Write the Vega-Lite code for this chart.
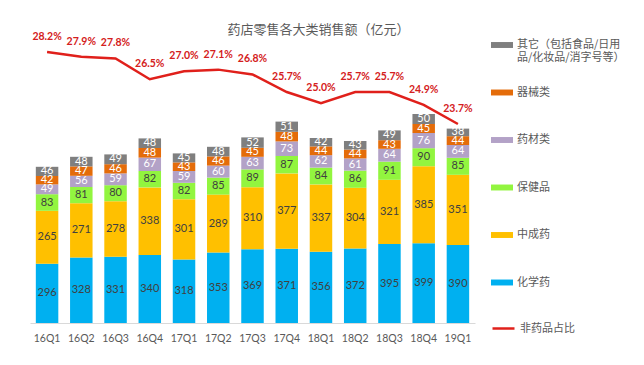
{
  "$schema": "https://vega.github.io/schema/vega-lite/v6.json",
  "width": 445,
  "height": 278,
  "autosize": {"type": "none"},
  "padding": {"left": 30, "top": 45, "right": 169, "bottom": 42},
  "background": "#ffffff",
  "config": {"view": {"stroke": null}},
  "title": {
    "text": "药店零售各大类销售额（亿元）",
    "anchor": "middle",
    "frame": "group",
    "dx": 66,
    "dy": 14,
    "offset": 9,
    "font": "Noto Sans CJK SC",
    "fontSize": 13,
    "fontWeight": "normal",
    "color": "#595959"
  },
  "datasets": {
    "sales": [
      {"q": "16Q1", "cat": "化学药", "v": 296}, {"q": "16Q2", "cat": "化学药", "v": 328}, {"q": "16Q3", "cat": "化学药", "v": 331}, {"q": "16Q4", "cat": "化学药", "v": 340}, {"q": "17Q1", "cat": "化学药", "v": 318}, {"q": "17Q2", "cat": "化学药", "v": 353}, {"q": "17Q3", "cat": "化学药", "v": 369}, {"q": "17Q4", "cat": "化学药", "v": 371}, {"q": "18Q1", "cat": "化学药", "v": 356}, {"q": "18Q2", "cat": "化学药", "v": 372}, {"q": "18Q3", "cat": "化学药", "v": 395}, {"q": "18Q4", "cat": "化学药", "v": 399}, {"q": "19Q1", "cat": "化学药", "v": 390},
      {"q": "16Q1", "cat": "中成药", "v": 265}, {"q": "16Q2", "cat": "中成药", "v": 271}, {"q": "16Q3", "cat": "中成药", "v": 278}, {"q": "16Q4", "cat": "中成药", "v": 338}, {"q": "17Q1", "cat": "中成药", "v": 301}, {"q": "17Q2", "cat": "中成药", "v": 289}, {"q": "17Q3", "cat": "中成药", "v": 310}, {"q": "17Q4", "cat": "中成药", "v": 377}, {"q": "18Q1", "cat": "中成药", "v": 337}, {"q": "18Q2", "cat": "中成药", "v": 304}, {"q": "18Q3", "cat": "中成药", "v": 321}, {"q": "18Q4", "cat": "中成药", "v": 385}, {"q": "19Q1", "cat": "中成药", "v": 351},
      {"q": "16Q1", "cat": "保健品", "v": 83}, {"q": "16Q2", "cat": "保健品", "v": 81}, {"q": "16Q3", "cat": "保健品", "v": 80}, {"q": "16Q4", "cat": "保健品", "v": 82}, {"q": "17Q1", "cat": "保健品", "v": 82}, {"q": "17Q2", "cat": "保健品", "v": 85}, {"q": "17Q3", "cat": "保健品", "v": 89}, {"q": "17Q4", "cat": "保健品", "v": 87}, {"q": "18Q1", "cat": "保健品", "v": 84}, {"q": "18Q2", "cat": "保健品", "v": 86}, {"q": "18Q3", "cat": "保健品", "v": 91}, {"q": "18Q4", "cat": "保健品", "v": 90}, {"q": "19Q1", "cat": "保健品", "v": 85},
      {"q": "16Q1", "cat": "药材类", "v": 49}, {"q": "16Q2", "cat": "药材类", "v": 56}, {"q": "16Q3", "cat": "药材类", "v": 59}, {"q": "16Q4", "cat": "药材类", "v": 67}, {"q": "17Q1", "cat": "药材类", "v": 59}, {"q": "17Q2", "cat": "药材类", "v": 60}, {"q": "17Q3", "cat": "药材类", "v": 63}, {"q": "17Q4", "cat": "药材类", "v": 73}, {"q": "18Q1", "cat": "药材类", "v": 62}, {"q": "18Q2", "cat": "药材类", "v": 61}, {"q": "18Q3", "cat": "药材类", "v": 64}, {"q": "18Q4", "cat": "药材类", "v": 76}, {"q": "19Q1", "cat": "药材类", "v": 64},
      {"q": "16Q1", "cat": "器械类", "v": 42}, {"q": "16Q2", "cat": "器械类", "v": 47}, {"q": "16Q3", "cat": "器械类", "v": 46}, {"q": "16Q4", "cat": "器械类", "v": 48}, {"q": "17Q1", "cat": "器械类", "v": 43}, {"q": "17Q2", "cat": "器械类", "v": 46}, {"q": "17Q3", "cat": "器械类", "v": 45}, {"q": "17Q4", "cat": "器械类", "v": 48}, {"q": "18Q1", "cat": "器械类", "v": 44}, {"q": "18Q2", "cat": "器械类", "v": 44}, {"q": "18Q3", "cat": "器械类", "v": 43}, {"q": "18Q4", "cat": "器械类", "v": 45}, {"q": "19Q1", "cat": "器械类", "v": 44},
      {"q": "16Q1", "cat": "其它（包括食品/日用品/化妆品/消字号等）", "v": 46}, {"q": "16Q2", "cat": "其它（包括食品/日用品/化妆品/消字号等）", "v": 48}, {"q": "16Q3", "cat": "其它（包括食品/日用品/化妆品/消字号等）", "v": 49}, {"q": "16Q4", "cat": "其它（包括食品/日用品/化妆品/消字号等）", "v": 48}, {"q": "17Q1", "cat": "其它（包括食品/日用品/化妆品/消字号等）", "v": 45}, {"q": "17Q2", "cat": "其它（包括食品/日用品/化妆品/消字号等）", "v": 48}, {"q": "17Q3", "cat": "其它（包括食品/日用品/化妆品/消字号等）", "v": 52}, {"q": "17Q4", "cat": "其它（包括食品/日用品/化妆品/消字号等）", "v": 51}, {"q": "18Q1", "cat": "其它（包括食品/日用品/化妆品/消字号等）", "v": 42}, {"q": "18Q2", "cat": "其它（包括食品/日用品/化妆品/消字号等）", "v": 43}, {"q": "18Q3", "cat": "其它（包括食品/日用品/化妆品/消字号等）", "v": 49}, {"q": "18Q4", "cat": "其它（包括食品/日用品/化妆品/消字号等）", "v": 50}, {"q": "19Q1", "cat": "其它（包括食品/日用品/化妆品/消字号等）", "v": 38}
    ],
    "ratio": [
      {"q": "16Q1", "p": 0.282}, {"q": "16Q2", "p": 0.279}, {"q": "16Q3", "p": 0.278}, {"q": "16Q4", "p": 0.265}, {"q": "17Q1", "p": 0.270}, {"q": "17Q2", "p": 0.271}, {"q": "17Q3", "p": 0.268}, {"q": "17Q4", "p": 0.257}, {"q": "18Q1", "p": 0.250}, {"q": "18Q2", "p": 0.257}, {"q": "18Q3", "p": 0.257}, {"q": "18Q4", "p": 0.249}, {"q": "19Q1", "p": 0.237}
    ]
  },
  "encoding": {
    "x": {
      "field": "q",
      "type": "nominal",
      "sort": null,
      "scale": {"paddingInner": 0.343, "paddingOuter": 0.17},
      "axis": {
        "title": null,
        "labelAngle": 0,
        "ticks": false,
        "domainColor": "#d9d9d9",
        "domainWidth": 1,
        "labelColor": "#595959",
        "labelFont": "Lato",
        "labelFontSize": 10.5,
        "labelPadding": 10
      }
    }
  },
  "layer": [
    {
      "data": {"name": "sales"},
      "transform": [
        {"calculate": "indexof(['化学药','中成药','保健品','药材类','器械类','其它（包括食品/日用品/化妆品/消字号等）'], datum.cat)", "as": "idx"},
        {"stack": "v", "groupby": ["q"], "sort": [{"field": "idx", "order": "ascending"}], "as": ["v0", "v1"]},
        {"calculate": "(datum.v0 + datum.v1) / 2", "as": "vm"}
      ],
      "layer": [
        {
          "mark": {"type": "bar"},
          "encoding": {
            "y": {"field": "v0", "type": "quantitative", "scale": {"domain": [0, 1390]}, "axis": null},
            "y2": {"field": "v1"},
            "fill": {
              "field": "cat",
              "type": "nominal",
              "scale": {
                "domain": ["其它（包括食品/日用品/化妆品/消字号等）", "器械类", "药材类", "保健品", "中成药", "化学药"],
                "range": ["#7f7f7f", "#e46c0a", "#b3a2c7", "#92f53f", "#ffc000", "#00b0f0"]
              },
              "legend": {
                "orient": "none",
                "legendX": 461,
                "legendY": -11,
                "title": null,
                "symbolType": "M-1,-0.27L1,-0.27L1,0.27L-1,0.27Z",
                "symbolSize": 484,
                "symbolStrokeWidth": 0,
                "labelFont": "Noto Sans CJK SC",
                "labelFontSize": 11,
                "labelColor": "#595959",
                "labelOffset": 4,
                "labelLimit": 200,
                "gridAlign": "all",
                "rowPadding": 18.5,
                "labelExpr": "datum.label == '其它（包括食品/日用品/化妆品/消字号等）' ? ['其它（包括食品/日用', '品/化妆品/消字号等）'] : datum.label"
              }
            }
          }
        },
        {
          "mark": {"type": "text", "font": "Lato", "fontSize": 11},
          "encoding": {
            "y": {"field": "vm", "type": "quantitative", "scale": {"domain": [0, 1390]}, "axis": null},
            "text": {"field": "v", "type": "quantitative"},
            "color": {"condition": {"test": "datum.idx >= 3", "value": "#ffffff"}, "value": "#404040"}
          }
        }
      ]
    },
    {
      "data": {"name": "ratio"},
      "encoding": {
        "y": {"field": "p", "type": "quantitative", "scale": {"domain": [0.1126, 0.2864]}, "axis": null}
      },
      "layer": [
        {
          "mark": {"type": "line", "strokeWidth": 2.5},
          "encoding": {
            "stroke": {
              "datum": "非药品占比",
              "type": "nominal",
              "scale": {"range": ["#e0201b"]},
              "legend": {
                "orient": "none",
                "legendX": 461,
                "legendY": 271,
                "title": null,
                "symbolType": "stroke",
                "symbolSize": 484,
                "symbolStrokeWidth": 2.5,
                "labelFont": "Noto Sans CJK SC",
                "labelFontSize": 11,
                "labelColor": "#595959",
                "labelOffset": 4
              }
            }
          }
        },
        {
          "mark": {"type": "text", "font": "Lato", "fontWeight": "bold", "fontSize": 10.5, "dy": -15, "color": "#d42020"},
          "encoding": {
            "text": {"field": "p", "type": "quantitative", "format": ".1%"}
          }
        }
      ]
    }
  ],
  "resolve": {"scale": {"y": "independent"}}
}
